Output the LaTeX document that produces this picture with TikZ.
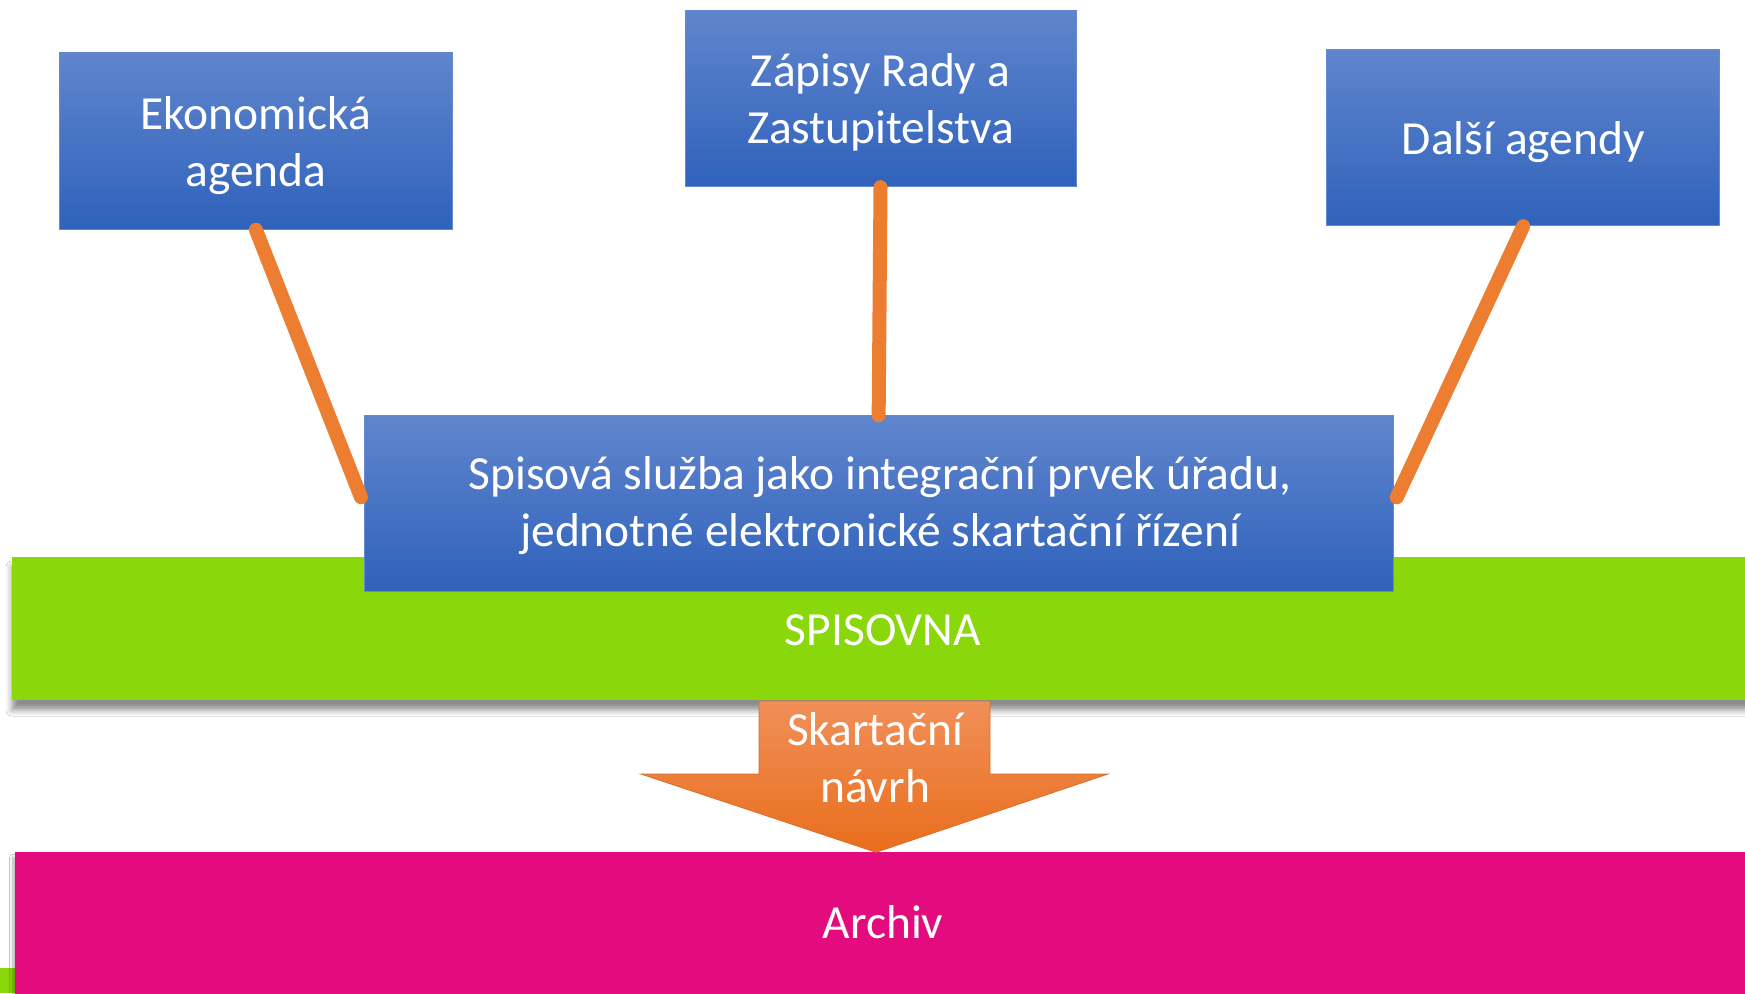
\documentclass[tikz,border=0pt]{standalone}
\usepackage{fontspec}
\setmainfont{Carlito}
\usetikzlibrary{shadows.blur}

\definecolor{bluetop}{RGB}{96,133,205}
\definecolor{bluebot}{RGB}{47,98,187}
\definecolor{blueedge}{RGB}{100,138,212}
\definecolor{lime}{RGB}{138,216,12}
\definecolor{pinkband}{RGB}{228,11,126}
\definecolor{conn}{RGB}{237,125,49}
\definecolor{ortop}{RGB}{241,143,88}
\definecolor{orbot}{RGB}{233,110,28}

\tikzset{
  bluebox/.style={draw=blueedge, line width=1pt, top color=bluetop, bottom color=bluebot,
    rectangle, inner sep=0pt},
  lbl/.style={text=white, font=\fontsize{47.5}{57}\selectfont, align=center, anchor=base, inner sep=0pt},
  link/.style={draw=conn, line width=14pt, line cap=round},
  bandshadow/.style={blur shadow={shadow xshift=0pt, shadow yshift=-10pt, shadow blur radius=6pt, shadow opacity=45}},
}

\begin{document}
\begin{tikzpicture}[x=1pt,y=-1pt]
\useasboundingbox (0,0) rectangle (1745,993);
\fill[white] (0,0) rectangle (1745,993);

% small green piece bottom left
\fill[lime] (0,967.7) rectangle (16,993);

% SPISOVNA band
\path[fill=lime, bandshadow] (12,557) rectangle (1760,700);
\node[lbl] (spisovna) at (883,645) {SPISOVNA};

% Archiv band
\path[fill=pinkband, blur shadow={shadow xshift=-2pt, shadow yshift=-5pt, shadow blur radius=3pt, shadow opacity=30}] (14.7,852.3) rectangle (1760,1010);
\node[lbl] (archiv) at (883,938.3) {Archiv};

% down arrow
\path[draw=conn!90!black, line width=0.8pt, top color=ortop, bottom color=orbot]
  (759,701) -- (990,701) -- (990,774) -- (1108,774) -- (876,852.3) -- (641,774) -- (759,774) -- cycle;
\node[lbl] (skart) at (875,802.3) {Skartační\\návrh};

% boxes
\node[bluebox, minimum width=393.7, minimum height=176.6] (eko) at (255.9,141) {};
\node[bluebox, minimum width=391, minimum height=175.7] (zap) at (880.5,98.8) {};
\node[bluebox, minimum width=393, minimum height=176.4] (dal) at (1523.2,137.5) {};
\node[bluebox, minimum width=1029.3, minimum height=176] (cen) at (878.65,503.7) {};

% connectors
\draw[link, shorten >=7pt] (eko.south) -- (cen.west);
\draw[link] (zap.south) -- (cen.north);
\draw[link, shorten >=7pt] (dal.south) -- (cen.east);

% texts
\node[lbl] (ekot) at (256,186.5) {Ekonomická\\agenda};
\node[lbl] (zapt) at (880.5,143) {Zápisy Rady a\\Zastupitelstva};
\node[lbl] (dalt) at (1523.4,154) {Další agendy};
\node[lbl] (cent) at (880,546.3) {Spisová služba jako integrační prvek úřadu,\\jednotné elektronické skartační řízení};
\end{tikzpicture}
\end{document}
